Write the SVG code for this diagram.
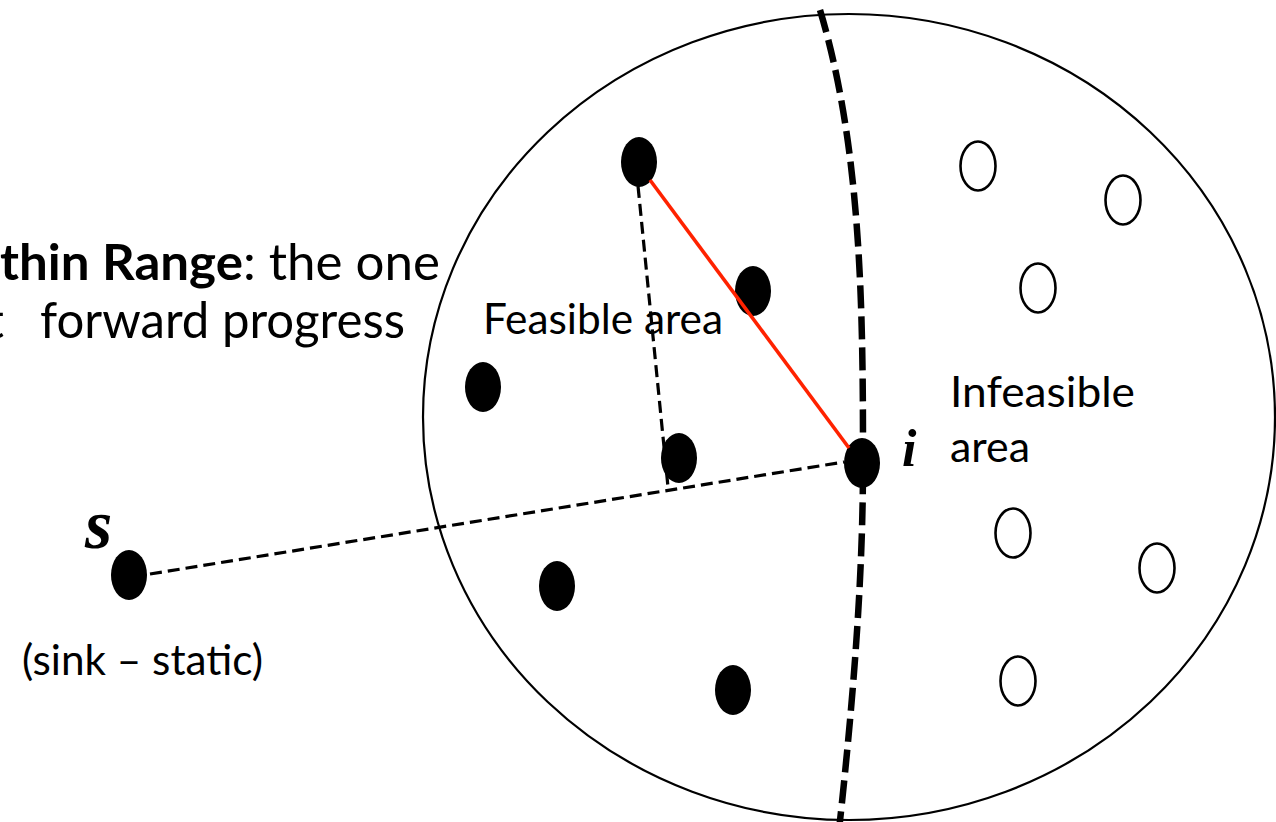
<svg xmlns="http://www.w3.org/2000/svg" width="1276" height="822" viewBox="0 0 1276 822">
<style>
.bg{fill:#fff}
.range{fill:none;stroke:#000;stroke-width:2.2}
.divider{fill:none;stroke:#000;stroke-width:6.5;stroke-dasharray:23 8}
.dash{fill:none;stroke:#000;stroke-width:3.2;stroke-dasharray:12 6}
.red{fill:none;stroke:#FF2200;stroke-width:3.6}
.full{fill:#000}
.empty{fill:#fff;stroke:#000;stroke-width:2.6}
.lbl{font-family:Lato,"Liberation Sans",sans-serif;fill:#000}
.var{font-family:"Liberation Serif","Times New Roman",serif;font-style:italic;font-weight:bold;fill:#000}
</style>
<rect class="bg" x="0" y="0" width="1276" height="822"/>
<g id="range">
<ellipse class="range" cx="849" cy="417" rx="426" ry="403"/>
<path class="divider" d="M820,10 C862,150 863,313 863,463 C863,580 853,702 839,830"/>
</g>
<g id="texts">
<text class="lbl" x="0" y="280" font-size="50" textLength="440" lengthAdjust="spacingAndGlyphs"><tspan font-weight="bold">thin Range</tspan>: the one</text>
<text class="lbl" y="338" font-size="50"><tspan x="-14">t</tspan><tspan x="40" textLength="365" lengthAdjust="spacingAndGlyphs">forward progress</tspan></text>
<text class="lbl" x="483" y="334" font-size="42" textLength="240" lengthAdjust="spacingAndGlyphs">Feasible area</text>
<text class="lbl" x="950" y="407" font-size="42" textLength="185" lengthAdjust="spacingAndGlyphs">Infeasible</text>
<text class="lbl" x="950" y="462" font-size="42" textLength="80" lengthAdjust="spacingAndGlyphs">area</text>
<text class="lbl" x="22" y="675" font-size="42" textLength="241" lengthAdjust="spacingAndGlyphs">(sink – static)</text>
</g>
<g id="node-s"><ellipse class="full" cx="129" cy="575" rx="18" ry="25"/><text class="var" x="85" y="548" font-size="70">s</text></g>
<g id="node-i"><ellipse class="full" cx="862" cy="463" rx="18" ry="25"/><text class="var" x="902" y="466" font-size="52">i</text></g>
<g id="node-f1"><ellipse class="full" cx="639" cy="162" rx="18" ry="25"/></g>
<g id="node-f2"><ellipse class="full" cx="753" cy="291" rx="18" ry="25"/></g>
<g id="node-f3"><ellipse class="full" cx="483" cy="387" rx="18" ry="25"/></g>
<g id="node-f4"><ellipse class="full" cx="679" cy="458" rx="18" ry="25"/></g>
<g id="node-f5"><ellipse class="full" cx="557" cy="586" rx="18" ry="25"/></g>
<g id="node-f6"><ellipse class="full" cx="733" cy="690" rx="18" ry="25"/></g>
<g id="node-n1"><ellipse class="empty" cx="978" cy="166" rx="17.5" ry="24.5"/></g>
<g id="node-n2"><ellipse class="empty" cx="1123" cy="200" rx="17.5" ry="24.5"/></g>
<g id="node-n3"><ellipse class="empty" cx="1038" cy="288" rx="17.5" ry="24.5"/></g>
<g id="node-n4"><ellipse class="empty" cx="1013" cy="533" rx="17.5" ry="24.5"/></g>
<g id="node-n5"><ellipse class="empty" cx="1157" cy="568" rx="17.5" ry="24.5"/></g>
<g id="node-n6"><ellipse class="empty" cx="1018" cy="681" rx="17.5" ry="24.5"/></g>
<g id="connectors">
<line class="dash" x1="150" y1="574" x2="844" y2="462"/>
<line class="dash" x1="638" y1="186" x2="668" y2="487" stroke-dasharray="13 6"/>
<line class="red" x1="650" y1="180" x2="849" y2="448"/>
</g>
</svg>
